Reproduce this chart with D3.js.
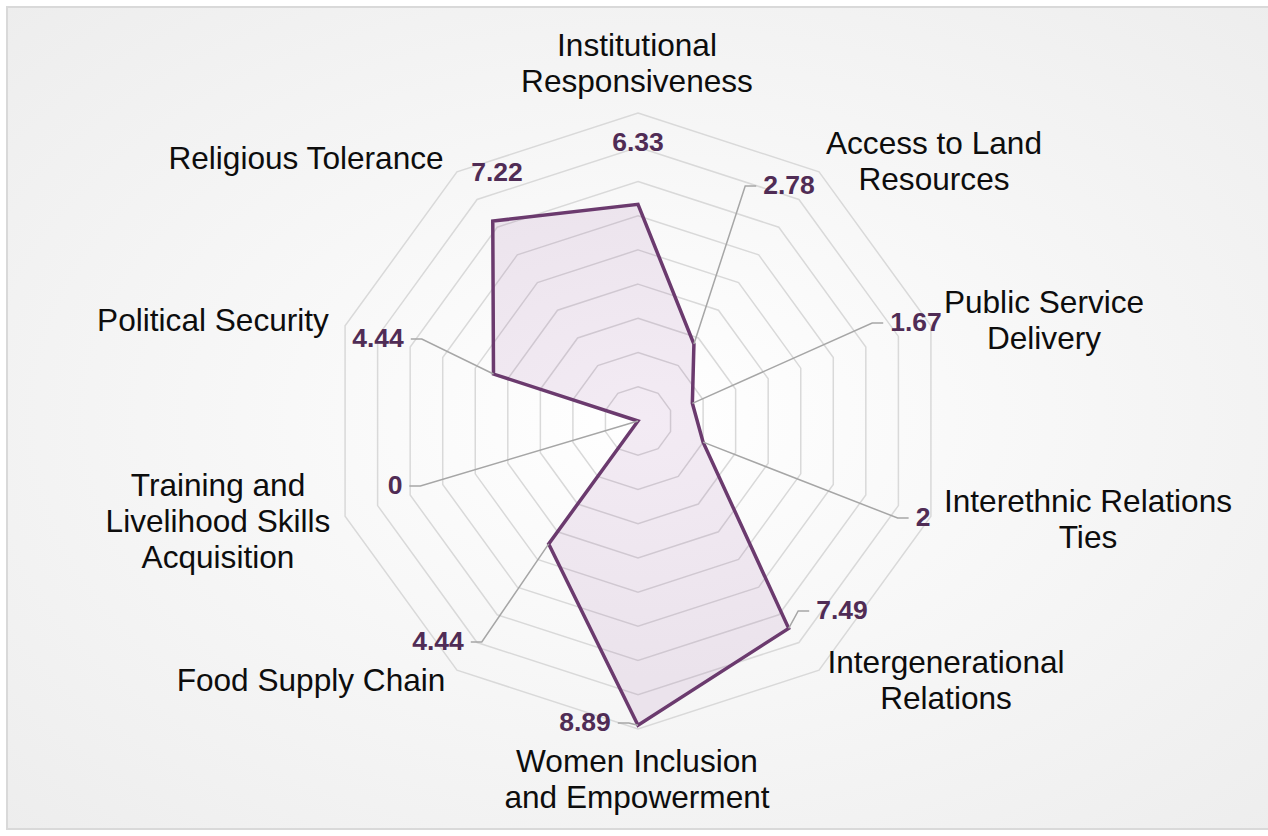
<!DOCTYPE html>
<html>
<head>
<meta charset="utf-8">
<script src="https://cdn.jsdelivr.net/npm/d3@7"></script>
<style>
  html, body { margin: 0; padding: 0; background: #ffffff; }
  svg { display: block; }
</style>
</head>
<body>
<svg id="chart" width="1268" height="836"></svg>
<script>
// ---- data ----
const categories = [
  "Institutional Responsiveness",
  "Access to Land Resources",
  "Public Service Delivery",
  "Interethnic Relations Ties",
  "Intergenerational Relations",
  "Women Inclusion and Empowerment",
  "Food Supply Chain",
  "Training and Livelihood Skills Acquisition",
  "Political Security",
  "Religious Tolerance"
];
const values = [6.33, 2.78, 1.67, 2, 7.49, 8.89, 4.44, 0, 4.44, 7.22];
const valueLabels = ["6.33", "2.78", "1.67", "2", "7.49", "8.89", "4.44", "0", "4.44", "7.22"];
const gridTicks = [1, 2, 3, 4, 5, 6, 7, 8, 9];

// ---- layout (not data) ----
const categoryLines = [
  ["Institutional", "Responsiveness"],
  ["Access to Land", "Resources"],
  ["Public Service", "Delivery"],
  ["Interethnic Relations", "Ties"],
  ["Intergenerational", "Relations"],
  ["Women Inclusion", "and Empowerment"],
  ["Food Supply Chain"],
  ["Training and", "Livelihood Skills", "Acquisition"],
  ["Political Security"],
  ["Religious Tolerance"]
];
const categoryPos = [
  [637, 45], [934, 143], [1044, 302], [1088, 501], [946, 662],
  [637, 761], [311, 680], [218, 485], [213, 320], [306, 158]
];
const valueLabelPos = [
  [638, 142], [789, 185], [916, 322], [923, 517], [842, 610],
  [585, 722], [438, 641], [395, 485], [378, 338], [497, 172]
];
const showLeader = [false, true, true, true, true, true, true, true, true, false];

const W = 1268, H = 836;
const cx = 638, cy = 421, R = 308;

const svg = d3.select("#chart");
const defs = svg.append("defs");
const grad = defs.append("radialGradient").attr("id", "bg")
  .attr("cx", "50%").attr("cy", "50%").attr("r", "75%");
grad.append("stop").attr("offset", "0%").attr("stop-color", "#ffffff");
grad.append("stop").attr("offset", "100%").attr("stop-color", "#ececec");

svg.append("rect").attr("x", 7).attr("y", 7).attr("width", W + 10).attr("height", H - 14)
  .attr("fill", "url(#bg)").attr("stroke", "#d9d9d9").attr("stroke-width", 2);

const r = d3.scaleLinear().domain([0, 9]).range([0, R]);
const angle = d3.scaleLinear().domain([0, categories.length]).range([0, 2 * Math.PI]);

const g = svg.append("g").attr("transform", `translate(${cx},${cy})`);

// grid rings
const ringLine = d3.lineRadial()
  .angle((d, i) => angle(i))
  .radius(d => r(d))
  .curve(d3.curveLinearClosed);

g.selectAll("path.ring").data(gridTicks).join("path")
  .attr("class", "ring")
  .attr("d", t => ringLine(categories.map(() => t)))
  .attr("fill", "none")
  .attr("stroke", "#d9d9d9")
  .attr("stroke-width", 1.5);

// series
const seriesLine = d3.lineRadial()
  .angle((d, i) => angle(i))
  .radius(d => r(d))
  .curve(d3.curveLinearClosed);

g.append("path")
  .attr("d", seriesLine(values))
  .attr("fill", "#8a3f90")
  .attr("fill-opacity", 0.1)
  .attr("stroke", "#6b3a6e")
  .attr("stroke-width", 3.5)
  .attr("stroke-linejoin", "miter");

function pt(i, v) {
  const a = angle(i);
  return [cx + r(v) * Math.sin(a), cy - r(v) * Math.cos(a)];
}

// value labels + leader lines
const labG = svg.append("g");
values.forEach((v, i) => {
  const [lx, ly] = valueLabelPos[i];
  const t = labG.append("text")
    .attr("x", lx).attr("y", ly)
    .attr("dy", "0.35em")
    .attr("text-anchor", "middle")
    .attr("font-family", "Liberation Sans, Arial, sans-serif")
    .attr("font-weight", "bold")
    .attr("font-size", 26.5)
    .attr("fill", "#502c55")
    .text(valueLabels[i]);
  if (showLeader[i]) {
    const w = t.node().getComputedTextLength();
    const [px, py] = pt(i, v);
    const side = px > lx ? 1 : -1;
    const ex = lx + side * (w / 2 + 7);
    const ey = ly + 1;
    let bx = ex + side * 11;
    if (side === 1 && bx > px) bx = Math.max(ex, px - 1);
    if (side === -1 && bx < px) bx = Math.min(ex, px + 1);
    labG.insert("path", "text")
      .attr("d", `M${ex},${ey}L${bx},${ey}L${px},${py}`)
      .attr("fill", "none")
      .attr("stroke", "#a6a6a6")
      .attr("stroke-width", 1.5);
  }
});

// category labels
const catG = svg.append("g");
categories.forEach((c, i) => {
  const [x, y] = categoryPos[i];
  const t = catG.append("text")
    .attr("text-anchor", "middle")
    .attr("font-family", "Liberation Sans, Arial, sans-serif")
    .attr("font-size", 31.6)
    .attr("fill", "#0d0d0d");
  categoryLines[i].forEach((ln, j) => {
    t.append("tspan").attr("x", x).attr("y", y + j * 36).attr("dy", "0.35em").text(ln);
  });
});
</script>
</body>
</html>
